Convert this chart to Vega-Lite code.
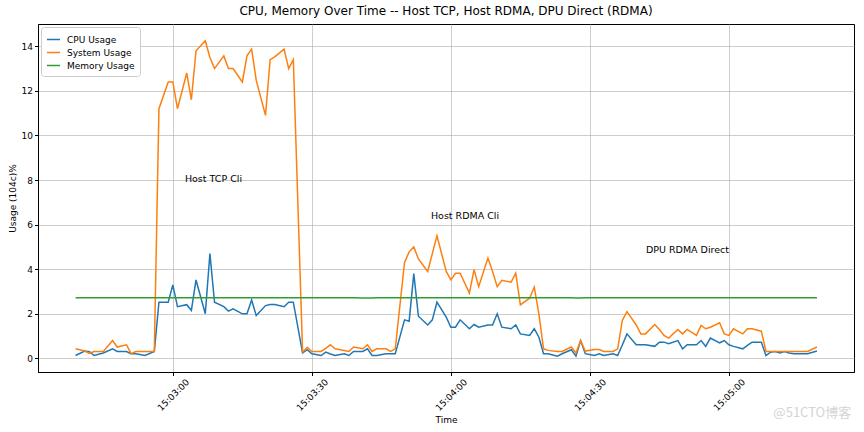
{
  "$schema": "https://vega.github.io/schema/vega-lite/v6.json",
  "width": 816,
  "height": 348,
  "autosize": {"type": "none"},
  "padding": {"left": 38, "top": 24, "right": 10, "bottom": 60},
  "background": "white",
  "title": {"text": "CPU, Memory Over Time -- Host TCP, Host RDMA, DPU Direct (RDMA)", "font": "DejaVu Sans", "fontSize": 12, "fontWeight": "normal", "color": "black", "anchor": "middle", "offset": 6},
  "config": {
    "font": "DejaVu Sans",
    "view": {"stroke": "black", "strokeWidth": 1},
    "axis": {"labelFont": "DejaVu Sans", "titleFont": "DejaVu Sans", "labelFontSize": 9, "titleFontSize": 9, "titleFontWeight": "normal", "labelColor": "black", "titleColor": "black", "domainColor": "black", "tickColor": "black", "tickSize": 3.5, "gridColor": "#b0b0b0", "gridWidth": 0.8, "gridOpacity": 0.8}
  },
  "layer": [
    {
      "data": {"values": [
        {"t": "2024-01-01T15:02:39", "CPU Usage": 0.13, "System Usage": 0.43, "Memory Usage": 2.72},
        {"t": "2024-01-01T15:02:41", "CPU Usage": 0.33, "System Usage": 0.33, "Memory Usage": 2.72},
        {"t": "2024-01-01T15:02:42", "CPU Usage": 0.30, "System Usage": 0.22, "Memory Usage": 2.72},
        {"t": "2024-01-01T15:02:43", "CPU Usage": 0.13, "System Usage": 0.31, "Memory Usage": 2.72},
        {"t": "2024-01-01T15:02:45", "CPU Usage": 0.24, "System Usage": 0.31, "Memory Usage": 2.72},
        {"t": "2024-01-01T15:02:47", "CPU Usage": 0.43, "System Usage": 0.80, "Memory Usage": 2.72},
        {"t": "2024-01-01T15:02:48", "CPU Usage": 0.31, "System Usage": 0.51, "Memory Usage": 2.72},
        {"t": "2024-01-01T15:02:50", "CPU Usage": 0.31, "System Usage": 0.61, "Memory Usage": 2.72},
        {"t": "2024-01-01T15:02:51", "CPU Usage": 0.21, "System Usage": 0.21, "Memory Usage": 2.72},
        {"t": "2024-01-01T15:02:52", "CPU Usage": 0.21, "System Usage": 0.31, "Memory Usage": 2.72},
        {"t": "2024-01-01T15:02:54", "CPU Usage": 0.13, "System Usage": 0.31, "Memory Usage": 2.72},
        {"t": "2024-01-01T15:02:56", "CPU Usage": 0.31, "System Usage": 0.31, "Memory Usage": 2.72},
        {"t": "2024-01-01T15:02:57", "CPU Usage": 2.52, "System Usage": 11.2, "Memory Usage": 2.72},
        {"t": "2024-01-01T15:02:59", "CPU Usage": 2.52, "System Usage": 12.4, "Memory Usage": 2.72},
        {"t": "2024-01-01T15:03:00", "CPU Usage": 3.30, "System Usage": 12.4, "Memory Usage": 2.72},
        {"t": "2024-01-01T15:03:01", "CPU Usage": 2.32, "System Usage": 11.2, "Memory Usage": 2.72},
        {"t": "2024-01-01T15:03:03", "CPU Usage": 2.41, "System Usage": 12.8, "Memory Usage": 2.72},
        {"t": "2024-01-01T15:03:04", "CPU Usage": 2.15, "System Usage": 11.6, "Memory Usage": 2.72},
        {"t": "2024-01-01T15:03:05", "CPU Usage": 3.52, "System Usage": 13.8, "Memory Usage": 2.72},
        {"t": "2024-01-01T15:03:07", "CPU Usage": 2.00, "System Usage": 14.25, "Memory Usage": 2.72},
        {"t": "2024-01-01T15:03:08", "CPU Usage": 4.70, "System Usage": 13.5, "Memory Usage": 2.72},
        {"t": "2024-01-01T15:03:09", "CPU Usage": 2.52, "System Usage": 13.0, "Memory Usage": 2.72},
        {"t": "2024-01-01T15:03:11", "CPU Usage": 2.32, "System Usage": 13.57, "Memory Usage": 2.72},
        {"t": "2024-01-01T15:03:12", "CPU Usage": 2.12, "System Usage": 13.0, "Memory Usage": 2.72},
        {"t": "2024-01-01T15:03:13", "CPU Usage": 2.22, "System Usage": 13.0, "Memory Usage": 2.72},
        {"t": "2024-01-01T15:03:15", "CPU Usage": 2.00, "System Usage": 12.4, "Memory Usage": 2.72},
        {"t": "2024-01-01T15:03:16", "CPU Usage": 2.00, "System Usage": 13.57, "Memory Usage": 2.72},
        {"t": "2024-01-01T15:03:17", "CPU Usage": 2.62, "System Usage": 13.87, "Memory Usage": 2.72},
        {"t": "2024-01-01T15:03:18", "CPU Usage": 1.92, "System Usage": 12.47, "Memory Usage": 2.72},
        {"t": "2024-01-01T15:03:20", "CPU Usage": 2.37, "System Usage": 10.9, "Memory Usage": 2.72},
        {"t": "2024-01-01T15:03:21", "CPU Usage": 2.42, "System Usage": 13.4, "Memory Usage": 2.72},
        {"t": "2024-01-01T15:03:22", "CPU Usage": 2.42, "System Usage": 13.53, "Memory Usage": 2.72},
        {"t": "2024-01-01T15:03:24", "CPU Usage": 2.32, "System Usage": 13.87, "Memory Usage": 2.72},
        {"t": "2024-01-01T15:03:25", "CPU Usage": 2.52, "System Usage": 13.0, "Memory Usage": 2.72},
        {"t": "2024-01-01T15:03:26", "CPU Usage": 2.52, "System Usage": 13.4, "Memory Usage": 2.72},
        {"t": "2024-01-01T15:03:28", "CPU Usage": 0.24, "System Usage": 0.28, "Memory Usage": 2.72},
        {"t": "2024-01-01T15:03:29", "CPU Usage": 0.39, "System Usage": 0.50, "Memory Usage": 2.72},
        {"t": "2024-01-01T15:03:30", "CPU Usage": 0.21, "System Usage": 0.31, "Memory Usage": 2.72},
        {"t": "2024-01-01T15:03:32", "CPU Usage": 0.13, "System Usage": 0.31, "Memory Usage": 2.72},
        {"t": "2024-01-01T15:03:33", "CPU Usage": 0.28, "System Usage": 0.45, "Memory Usage": 2.72},
        {"t": "2024-01-01T15:03:34", "CPU Usage": 0.20, "System Usage": 0.61, "Memory Usage": 2.72},
        {"t": "2024-01-01T15:03:35", "CPU Usage": 0.13, "System Usage": 0.43, "Memory Usage": 2.72},
        {"t": "2024-01-01T15:03:37", "CPU Usage": 0.21, "System Usage": 0.35, "Memory Usage": 2.72},
        {"t": "2024-01-01T15:03:38", "CPU Usage": 0.13, "System Usage": 0.31, "Memory Usage": 2.72},
        {"t": "2024-01-01T15:03:39", "CPU Usage": 0.31, "System Usage": 0.51, "Memory Usage": 2.72},
        {"t": "2024-01-01T15:03:41", "CPU Usage": 0.31, "System Usage": 0.43, "Memory Usage": 2.71},
        {"t": "2024-01-01T15:03:42", "CPU Usage": 0.43, "System Usage": 0.61, "Memory Usage": 2.71},
        {"t": "2024-01-01T15:03:43", "CPU Usage": 0.13, "System Usage": 0.31, "Memory Usage": 2.71},
        {"t": "2024-01-01T15:03:44", "CPU Usage": 0.13, "System Usage": 0.43, "Memory Usage": 2.72},
        {"t": "2024-01-01T15:03:46", "CPU Usage": 0.21, "System Usage": 0.43, "Memory Usage": 2.72},
        {"t": "2024-01-01T15:03:47", "CPU Usage": 0.21, "System Usage": 0.31, "Memory Usage": 2.72},
        {"t": "2024-01-01T15:03:48", "CPU Usage": 0.21, "System Usage": 0.43, "Memory Usage": 2.72},
        {"t": "2024-01-01T15:03:50", "CPU Usage": 1.73, "System Usage": 4.30, "Memory Usage": 2.72},
        {"t": "2024-01-01T15:03:51", "CPU Usage": 1.67, "System Usage": 4.78, "Memory Usage": 2.72},
        {"t": "2024-01-01T15:03:52", "CPU Usage": 3.80, "System Usage": 5.00, "Memory Usage": 2.72},
        {"t": "2024-01-01T15:03:53", "CPU Usage": 1.89, "System Usage": 4.46, "Memory Usage": 2.72},
        {"t": "2024-01-01T15:03:55", "CPU Usage": 1.50, "System Usage": 3.90, "Memory Usage": 2.72},
        {"t": "2024-01-01T15:03:56", "CPU Usage": 1.73, "System Usage": 4.70, "Memory Usage": 2.72},
        {"t": "2024-01-01T15:03:57", "CPU Usage": 2.52, "System Usage": 5.50, "Memory Usage": 2.72},
        {"t": "2024-01-01T15:03:59", "CPU Usage": 1.85, "System Usage": 3.90, "Memory Usage": 2.72},
        {"t": "2024-01-01T15:04:00", "CPU Usage": 1.40, "System Usage": 3.52, "Memory Usage": 2.72},
        {"t": "2024-01-01T15:04:01", "CPU Usage": 1.40, "System Usage": 3.82, "Memory Usage": 2.72},
        {"t": "2024-01-01T15:04:02", "CPU Usage": 1.73, "System Usage": 3.82, "Memory Usage": 2.72},
        {"t": "2024-01-01T15:04:04", "CPU Usage": 1.33, "System Usage": 2.93, "Memory Usage": 2.72},
        {"t": "2024-01-01T15:04:05", "CPU Usage": 1.52, "System Usage": 3.98, "Memory Usage": 2.72},
        {"t": "2024-01-01T15:04:06", "CPU Usage": 1.40, "System Usage": 3.22, "Memory Usage": 2.72},
        {"t": "2024-01-01T15:04:08", "CPU Usage": 1.50, "System Usage": 4.50, "Memory Usage": 2.72},
        {"t": "2024-01-01T15:04:09", "CPU Usage": 1.50, "System Usage": 3.90, "Memory Usage": 2.72},
        {"t": "2024-01-01T15:04:10", "CPU Usage": 2.00, "System Usage": 3.22, "Memory Usage": 2.72},
        {"t": "2024-01-01T15:04:11", "CPU Usage": 1.40, "System Usage": 3.50, "Memory Usage": 2.72},
        {"t": "2024-01-01T15:04:13", "CPU Usage": 1.33, "System Usage": 3.42, "Memory Usage": 2.72},
        {"t": "2024-01-01T15:04:14", "CPU Usage": 1.50, "System Usage": 3.82, "Memory Usage": 2.72},
        {"t": "2024-01-01T15:04:15", "CPU Usage": 1.10, "System Usage": 2.40, "Memory Usage": 2.72},
        {"t": "2024-01-01T15:04:17", "CPU Usage": 1.03, "System Usage": 2.70, "Memory Usage": 2.72},
        {"t": "2024-01-01T15:04:18", "CPU Usage": 1.33, "System Usage": 3.20, "Memory Usage": 2.72},
        {"t": "2024-01-01T15:04:19", "CPU Usage": 0.95, "System Usage": 2.00, "Memory Usage": 2.72},
        {"t": "2024-01-01T15:04:20", "CPU Usage": 0.21, "System Usage": 0.43, "Memory Usage": 2.72},
        {"t": "2024-01-01T15:04:21", "CPU Usage": 0.21, "System Usage": 0.36, "Memory Usage": 2.72},
        {"t": "2024-01-01T15:04:23", "CPU Usage": 0.10, "System Usage": 0.31, "Memory Usage": 2.72},
        {"t": "2024-01-01T15:04:24", "CPU Usage": 0.21, "System Usage": 0.31, "Memory Usage": 2.72},
        {"t": "2024-01-01T15:04:26", "CPU Usage": 0.39, "System Usage": 0.51, "Memory Usage": 2.72},
        {"t": "2024-01-01T15:04:27", "CPU Usage": 0.10, "System Usage": 0.24, "Memory Usage": 2.71},
        {"t": "2024-01-01T15:04:28", "CPU Usage": 0.80, "System Usage": 0.80, "Memory Usage": 2.71},
        {"t": "2024-01-01T15:04:29", "CPU Usage": 0.21, "System Usage": 0.33, "Memory Usage": 2.72},
        {"t": "2024-01-01T15:04:31", "CPU Usage": 0.13, "System Usage": 0.40, "Memory Usage": 2.72},
        {"t": "2024-01-01T15:04:32", "CPU Usage": 0.21, "System Usage": 0.40, "Memory Usage": 2.72},
        {"t": "2024-01-01T15:04:33", "CPU Usage": 0.13, "System Usage": 0.31, "Memory Usage": 2.72},
        {"t": "2024-01-01T15:04:35", "CPU Usage": 0.21, "System Usage": 0.31, "Memory Usage": 2.72},
        {"t": "2024-01-01T15:04:36", "CPU Usage": 0.13, "System Usage": 0.43, "Memory Usage": 2.72},
        {"t": "2024-01-01T15:04:37", "CPU Usage": 0.60, "System Usage": 1.70, "Memory Usage": 2.72},
        {"t": "2024-01-01T15:04:38", "CPU Usage": 1.10, "System Usage": 2.10, "Memory Usage": 2.72},
        {"t": "2024-01-01T15:04:40", "CPU Usage": 0.61, "System Usage": 1.50, "Memory Usage": 2.72},
        {"t": "2024-01-01T15:04:41", "CPU Usage": 0.61, "System Usage": 1.10, "Memory Usage": 2.72},
        {"t": "2024-01-01T15:04:42", "CPU Usage": 0.61, "System Usage": 1.10, "Memory Usage": 2.72},
        {"t": "2024-01-01T15:04:44", "CPU Usage": 0.54, "System Usage": 1.52, "Memory Usage": 2.72},
        {"t": "2024-01-01T15:04:45", "CPU Usage": 0.73, "System Usage": 1.30, "Memory Usage": 2.72},
        {"t": "2024-01-01T15:04:46", "CPU Usage": 0.73, "System Usage": 1.03, "Memory Usage": 2.72},
        {"t": "2024-01-01T15:04:47", "CPU Usage": 0.66, "System Usage": 0.91, "Memory Usage": 2.72},
        {"t": "2024-01-01T15:04:49", "CPU Usage": 0.80, "System Usage": 1.30, "Memory Usage": 2.72},
        {"t": "2024-01-01T15:04:50", "CPU Usage": 0.43, "System Usage": 1.10, "Memory Usage": 2.72},
        {"t": "2024-01-01T15:04:51", "CPU Usage": 0.61, "System Usage": 1.30, "Memory Usage": 2.72},
        {"t": "2024-01-01T15:04:53", "CPU Usage": 0.61, "System Usage": 1.03, "Memory Usage": 2.72},
        {"t": "2024-01-01T15:04:54", "CPU Usage": 0.80, "System Usage": 1.48, "Memory Usage": 2.72},
        {"t": "2024-01-01T15:04:55", "CPU Usage": 0.54, "System Usage": 1.33, "Memory Usage": 2.72},
        {"t": "2024-01-01T15:04:56", "CPU Usage": 0.91, "System Usage": 1.40, "Memory Usage": 2.72},
        {"t": "2024-01-01T15:04:58", "CPU Usage": 0.70, "System Usage": 1.60, "Memory Usage": 2.72},
        {"t": "2024-01-01T15:04:59", "CPU Usage": 0.80, "System Usage": 1.10, "Memory Usage": 2.72},
        {"t": "2024-01-01T15:05:00", "CPU Usage": 0.61, "System Usage": 1.03, "Memory Usage": 2.72},
        {"t": "2024-01-01T15:05:01", "CPU Usage": 0.54, "System Usage": 1.33, "Memory Usage": 2.72},
        {"t": "2024-01-01T15:05:03", "CPU Usage": 0.43, "System Usage": 1.10, "Memory Usage": 2.72},
        {"t": "2024-01-01T15:05:04", "CPU Usage": 0.58, "System Usage": 1.33, "Memory Usage": 2.72},
        {"t": "2024-01-01T15:05:05", "CPU Usage": 0.73, "System Usage": 1.33, "Memory Usage": 2.72},
        {"t": "2024-01-01T15:05:07", "CPU Usage": 0.73, "System Usage": 1.22, "Memory Usage": 2.72},
        {"t": "2024-01-01T15:05:08", "CPU Usage": 0.13, "System Usage": 0.31, "Memory Usage": 2.72},
        {"t": "2024-01-01T15:05:09", "CPU Usage": 0.28, "System Usage": 0.31, "Memory Usage": 2.72},
        {"t": "2024-01-01T15:05:10", "CPU Usage": 0.31, "System Usage": 0.31, "Memory Usage": 2.72},
        {"t": "2024-01-01T15:05:11", "CPU Usage": 0.24, "System Usage": 0.31, "Memory Usage": 2.72},
        {"t": "2024-01-01T15:05:12", "CPU Usage": 0.31, "System Usage": 0.31, "Memory Usage": 2.72},
        {"t": "2024-01-01T15:05:13", "CPU Usage": 0.24, "System Usage": 0.31, "Memory Usage": 2.72},
        {"t": "2024-01-01T15:05:14", "CPU Usage": 0.21, "System Usage": 0.31, "Memory Usage": 2.72},
        {"t": "2024-01-01T15:05:16", "CPU Usage": 0.21, "System Usage": 0.31, "Memory Usage": 2.72},
        {"t": "2024-01-01T15:05:17", "CPU Usage": 0.21, "System Usage": 0.31, "Memory Usage": 2.72},
        {"t": "2024-01-01T15:05:19", "CPU Usage": 0.33, "System Usage": 0.51, "Memory Usage": 2.72}
      ]},
      "transform": [{"fold": ["CPU Usage", "System Usage", "Memory Usage"], "as": ["series", "value"]}],
      "mark": {"type": "line", "strokeWidth": 1.5},
      "encoding": {
        "x": {"field": "t", "type": "temporal", "title": "Time",
          "scale": {"domain": [{"year": 2024, "month": 1, "date": 1, "hours": 15, "minutes": 2, "seconds": 30, "milliseconds": 900}, {"year": 2024, "month": 1, "date": 1, "hours": 15, "minutes": 5, "seconds": 27}]},
          "axis": {"values": [{"year": 2024, "month": 1, "date": 1, "hours": 15, "minutes": 3, "seconds": 0}, {"year": 2024, "month": 1, "date": 1, "hours": 15, "minutes": 3, "seconds": 30}, {"year": 2024, "month": 1, "date": 1, "hours": 15, "minutes": 4, "seconds": 0}, {"year": 2024, "month": 1, "date": 1, "hours": 15, "minutes": 4, "seconds": 30}, {"year": 2024, "month": 1, "date": 1, "hours": 15, "minutes": 5, "seconds": 0}],
            "format": "%H:%M:%S", "labelAngle": -45, "labelAlign": "center", "labelBaseline": "middle", "labelPadding": 19, "labelOverlap": false, "titlePadding": 3, "grid": true}},
        "y": {"field": "value", "type": "quantitative", "title": "Usage (104c)%",
          "scale": {"domain": [-0.61, 15.0], "nice": false, "zero": false},
          "axis": {"values": [0, 2, 4, 6, 8, 10, 12, 14], "labelPadding": 2, "titlePadding": 4, "grid": true}},
        "color": {"field": "series", "type": "nominal",
          "scale": {"domain": ["CPU Usage", "System Usage", "Memory Usage"], "range": ["#1f77b4", "#ff7f0e", "#2ca02c"]},
          "legend": {"title": null, "orient": "top-left", "offset": 3, "symbolType": "stroke", "symbolStrokeWidth": 1.5, "symbolSize": 169, "labelFontSize": 9, "labelFont": "DejaVu Sans", "labelColor": "black", "labelOffset": 6, "fillColor": "white", "strokeColor": "#cccccc", "padding": 5, "cornerRadius": 3, "rowPadding": 0}}
      }
    },
    {
      "data": {"values": [
        {"t": "2024-01-01T15:03:02.600", "value": 8.04, "label": "Host TCP Cli"},
        {"t": "2024-01-01T15:03:55.700", "value": 6.39, "label": "Host RDMA Cli"},
        {"t": "2024-01-01T15:04:42.100", "value": 4.87, "label": "DPU RDMA Direct"}
      ]},
      "mark": {"type": "text", "align": "left", "baseline": "middle", "font": "DejaVu Sans", "fontSize": 9.5, "color": "black"},
      "encoding": {
        "x": {"field": "t", "type": "temporal"},
        "y": {"field": "value", "type": "quantitative"},
        "text": {"field": "label"}
      }
    },
    {
      "data": {"values": [{"t": "2024-01-01T15:05:18", "value": -2.46, "label": "@51CTO博客"}]},
      "mark": {"type": "text", "align": "center", "baseline": "middle", "font": "Noto Sans CJK SC", "fontSize": 13, "color": "#d4d4d4"},
      "encoding": {
        "x": {"field": "t", "type": "temporal"},
        "y": {"field": "value", "type": "quantitative"},
        "text": {"field": "label"}
      }
    }
  ]
}
